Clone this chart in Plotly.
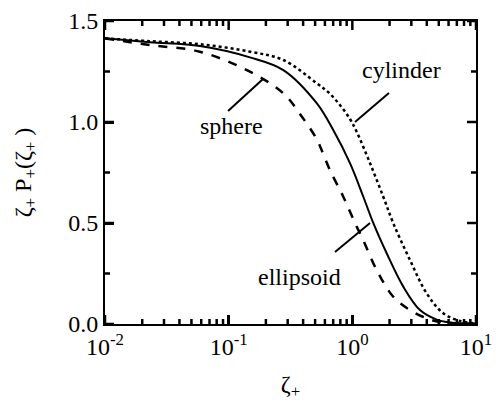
import math
import plotly.graph_objects as go

# Data
sphere_x = [0.0100, 0.0231, 0.0586, 0.1486, 0.2767, 0.377, 0.515, 0.579, 0.659, 0.845,
            1.084, 1.191, 1.574, 2.143, 2.924, 3.990, 5.115, 7.43, 10.0]
sphere_y = [1.414, 1.381, 1.348, 1.249, 1.142, 1.040, 0.915, 0.845, 0.762, 0.630,
            0.482, 0.432, 0.267, 0.135, 0.069, 0.028, 0.010, 0.002, 0.0]

ellipsoid_x = [0.0100, 0.0231, 0.0586, 0.1486, 0.2767, 0.515, 0.701, 0.957, 1.227, 1.479,
               1.896, 2.582, 3.524, 4.806, 6.16, 8.93, 10.0]
ellipsoid_y = [1.414, 1.395, 1.376, 1.320, 1.257, 1.093, 0.960, 0.796, 0.630, 0.499,
               0.350, 0.185, 0.069, 0.022, 0.008, 0.002, 0.0]

cylinder_x = [0.0100, 0.0231, 0.0586, 0.1486, 0.2767, 0.515, 0.635, 0.794, 0.957, 1.084,
              1.390, 1.779, 2.143, 2.924, 3.990, 5.436, 7.43, 10.0]
cylinder_y = [1.414, 1.400, 1.385, 1.348, 1.307, 1.192, 1.149, 1.084, 1.015, 0.952,
              0.796, 0.630, 0.499, 0.317, 0.152, 0.053, 0.015, 0.003]

x_tickvals = [0.01, 0.1, 1, 10]
x_ticktext = ["10<sup>-2</sup>", "10<sup>-1</sup>", "10<sup>0</sup>", "10<sup>1</sup>"]
x_minor_vals = [k * 10 ** n for n in (-2, -1, 0) for k in range(2, 10)]
y_tickvals = [0.0, 0.5, 1.0, 1.5]
y_minor_vals = [0.25, 0.75, 1.25]

labels = ["sphere", "cylinder", "ellipsoid"]
label_x = [0.106, 2.52, 0.377]
label_y = [0.98, 1.257, 0.233]
leader_x = [[0.0989, 0.1897], [1.051, 1.977], [0.724, 1.39]]
leader_y = [[1.054, 1.213], [1.0, 1.144], [0.356, 0.5]]

FONT = "Liberation Serif"
FS = 24

# axis geometry (pixels) used to convert tick lengths into axis units
X_LOG_RANGE = [-2, 1]
Y_RANGE = [0, 1.5]
MARGIN = dict(l=97, r=32, t=13, b=89)
W, H = 500, 405
plot_w = W - MARGIN["l"] - MARGIN["r"]
plot_h = H - MARGIN["t"] - MARGIN["b"]
px_per_decade = plot_w / (X_LOG_RANGE[1] - X_LOG_RANGE[0])
px_per_y = plot_h / (Y_RANGE[1] - Y_RANGE[0])
MAJOR_LEN, MINOR_LEN = 9, 5


def tick_segments(length):
    """Inside tick marks on all four sides, built from the tick value lists."""
    dy = length / px_per_y
    dfac = 10 ** (length / px_per_decade)
    xs, ys = [], []
    return xs, ys, dy, dfac


def add_ticks(fig, xvals, yvals, length):
    xs, ys, dy, dfac = tick_segments(length)
    x0, x1 = 10 ** X_LOG_RANGE[0], 10 ** X_LOG_RANGE[1]
    for v in xvals:
        xs += [v, v, None, v, v, None]
        ys += [Y_RANGE[0], Y_RANGE[0] + dy, None, Y_RANGE[1], Y_RANGE[1] - dy, None]
    for v in yvals:
        xs += [x0, x0 * dfac, None, x1, x1 / dfac, None]
        ys += [v, v, None, v, v, None]
    fig.add_trace(go.Scatter(x=xs, y=ys, mode="lines", hoverinfo="skip",
                             line=dict(color="black", width=2.5)))


fig = go.Figure()
fig.add_trace(go.Scatter(x=sphere_x, y=sphere_y, mode="lines",
                         line=dict(color="black", width=2.5, dash="dash", shape="spline")))
fig.add_trace(go.Scatter(x=ellipsoid_x, y=ellipsoid_y, mode="lines",
                         line=dict(color="black", width=2, shape="spline")))
fig.add_trace(go.Scatter(x=cylinder_x, y=cylinder_y, mode="lines",
                         line=dict(color="black", width=2.5, dash="dot", shape="spline")))
for lx, ly in zip(leader_x, leader_y):
    fig.add_trace(go.Scatter(x=lx, y=ly, mode="lines", line=dict(color="black", width=2)))

add_ticks(fig, x_tickvals, y_tickvals, MAJOR_LEN)
add_ticks(fig, x_minor_vals, y_minor_vals, MINOR_LEN)

for t, x, y in zip(labels, label_x, label_y):
    fig.add_annotation(x=math.log10(x), y=y, xref="x", yref="y", text=t, showarrow=False,
                       font=dict(family=FONT, size=FS, color="black"))

axis_common = dict(showline=True, linecolor="black", linewidth=2, mirror=True,
                   ticks="inside", ticklen=MAJOR_LEN, tickwidth=2.5, tickcolor="black",
                   showgrid=False, zeroline=False, automargin=False,
                   tickfont=dict(family=FONT, size=FS, color="black"))

fig.update_layout(
    template="none",
    xaxis=dict(type="log", range=X_LOG_RANGE, tickmode="array", tickvals=x_tickvals,
               ticktext=x_ticktext,
               title=dict(text="ζ<sub>+</sub>", font=dict(family=FONT, size=FS, color="black"),
                          standoff=16),
               **axis_common),
    yaxis=dict(range=Y_RANGE, tickmode="array", tickvals=y_tickvals,
               ticktext=["%.1f" % v for v in y_tickvals],
               title=dict(text="ζ<sub>+</sub> P<sub>+</sub>(ζ<sub>+</sub> )",
                          font=dict(family=FONT, size=FS, color="black"), standoff=30),
               **axis_common),
    width=W, height=H, showlegend=False,
    font=dict(family=FONT, size=FS, color="black"),
    margin=dict(**MARGIN, pad=0, autoexpand=False),
    plot_bgcolor="white", paper_bgcolor="white",
)

fig.write_html("out.html")
